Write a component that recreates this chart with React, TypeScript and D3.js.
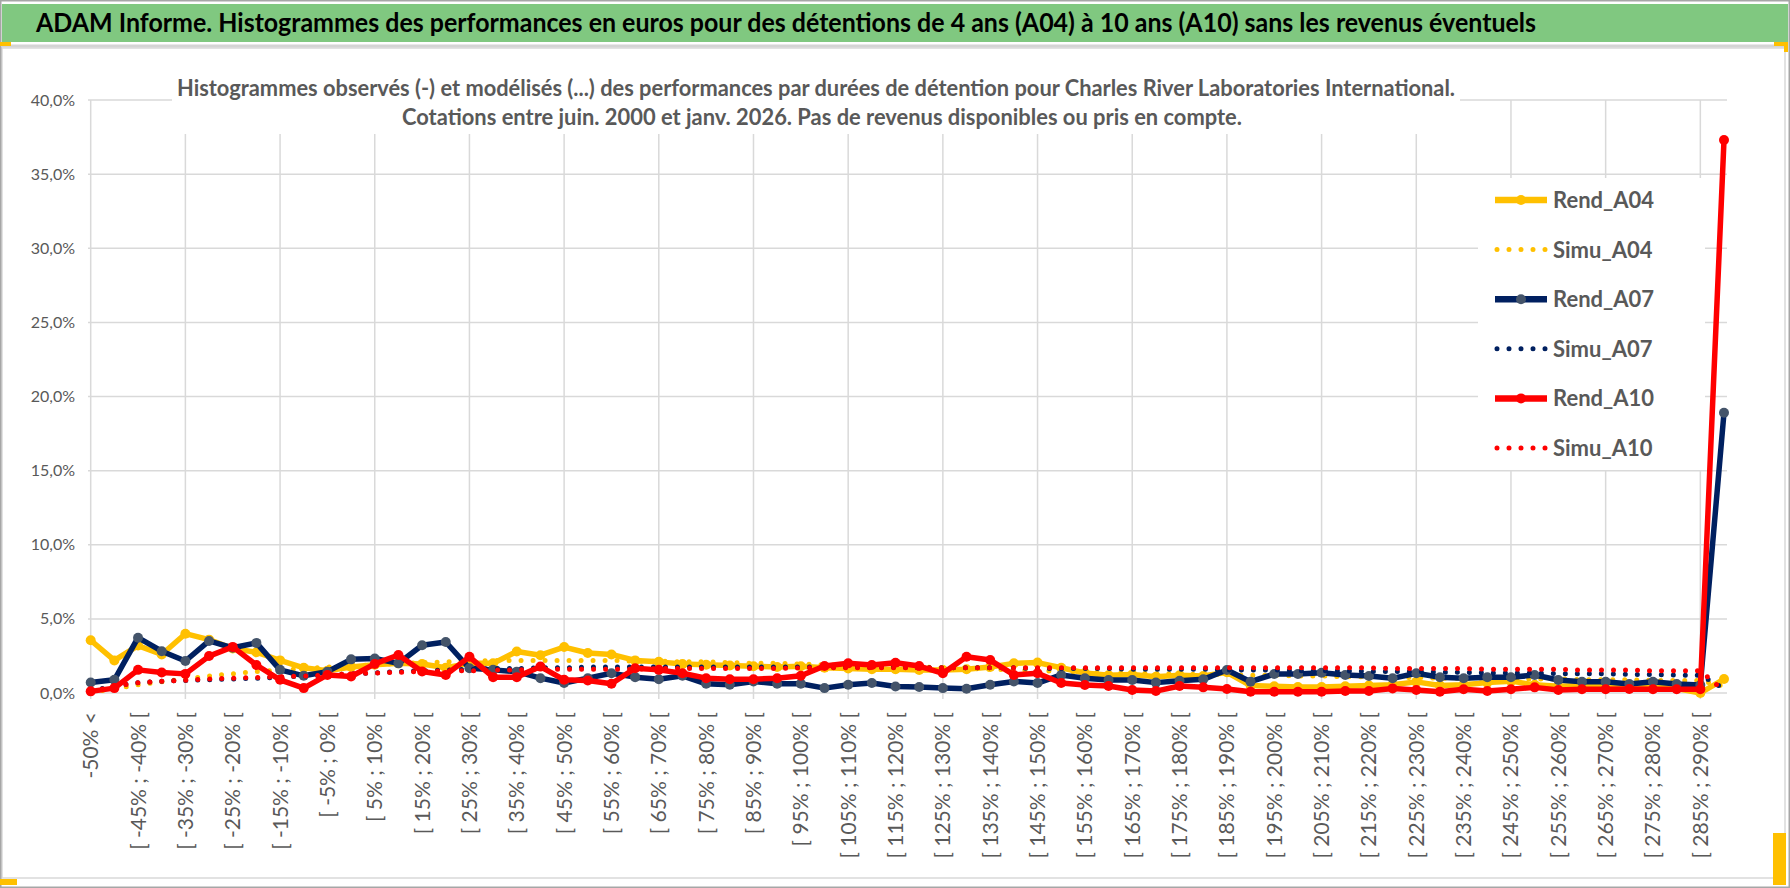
import React, { useEffect, useRef } from 'react';
import * as d3 from 'd3';

// categories of the histogram (5% bins)
const categories = [
	'-50% <', '[ -50% ; -45% [', '[ -45% ; -40% [', '[ -40% ; -35% [', '[ -35% ; -30% [', '[ -30% ; -25% [',
	'[ -25% ; -20% [', '[ -20% ; -15% [', '[ -15% ; -10% [', '[ -10% ; -5% [', '[ -5% ; 0% [', '[ 0% ; 5% [',
	'[ 5% ; 10% [', '[ 10% ; 15% [', '[ 15% ; 20% [', '[ 20% ; 25% [', '[ 25% ; 30% [', '[ 30% ; 35% [',
	'[ 35% ; 40% [', '[ 40% ; 45% [', '[ 45% ; 50% [', '[ 50% ; 55% [', '[ 55% ; 60% [', '[ 60% ; 65% [',
	'[ 65% ; 70% [', '[ 70% ; 75% [', '[ 75% ; 80% [', '[ 80% ; 85% [', '[ 85% ; 90% [', '[ 90% ; 95% [',
	'[ 95% ; 100% [', '[ 100% ; 105% [', '[ 105% ; 110% [', '[ 110% ; 115% [', '[ 115% ; 120% [', '[ 120% ; 125% [',
	'[ 125% ; 130% [', '[ 130% ; 135% [', '[ 135% ; 140% [', '[ 140% ; 145% [', '[ 145% ; 150% [', '[ 150% ; 155% [',
	'[ 155% ; 160% [', '[ 160% ; 165% [', '[ 165% ; 170% [', '[ 170% ; 175% [', '[ 175% ; 180% [', '[ 180% ; 185% [',
	'[ 185% ; 190% [', '[ 190% ; 195% [', '[ 195% ; 200% [', '[ 200% ; 205% [', '[ 205% ; 210% [', '[ 210% ; 215% [',
	'[ 215% ; 220% [', '[ 220% ; 225% [', '[ 225% ; 230% [', '[ 230% ; 235% [', '[ 235% ; 240% [', '[ 240% ; 245% [',
	'[ 245% ; 250% [', '[ 250% ; 255% [', '[ 255% ; 260% [', '[ 260% ; 265% [', '[ 265% ; 270% [', '[ 270% ; 275% [',
	'[ 275% ; 280% [', '[ 280% ; 285% [', '[ 285% ; 290% [', '> 290%',
];

// values in %
const rendA04 = [
	3.56, 2.2, 3.2, 2.6, 4.0, 3.6, 3.0, 2.75, 2.2, 1.7, 1.5, 1.75, 1.9, 2.0, 1.95, 1.7, 2.0, 2.0, 2.8, 2.55,
	3.1, 2.7, 2.6, 2.2, 2.1, 1.95, 1.9, 1.85, 1.8, 1.75, 1.8, 1.7, 1.65, 1.6, 1.6, 1.55, 1.55, 1.6, 1.75, 2.0,
	2.05, 1.7, 1.35, 1.2, 1.25, 1.1, 1.2, 1.15, 1.4, 0.5, 0.45, 0.4, 0.4, 0.45, 0.5, 0.55, 0.75, 0.5, 0.55, 0.7,
	0.8, 0.55, 0.45, 0.5, 0.6, 0.45, 0.5, 0.3, 0.0, 0.94,
];
const simuA04 = [
	0.05, 0.3, 0.55, 0.75, 0.95, 1.15, 1.3, 1.45, 1.55, 1.65, 1.75, 1.85, 1.9, 2.0, 2.05, 2.1, 2.15, 2.2, 2.2, 2.2,
	2.2, 2.2, 2.2, 2.15, 2.15, 2.1, 2.1, 2.05, 2.0, 2.0, 1.95, 1.9, 1.85, 1.8, 1.8, 1.75, 1.7, 1.65, 1.6, 1.55,
	1.5, 1.45, 1.4, 1.35, 1.35, 1.3, 1.3, 1.25, 1.25, 1.2, 1.2, 1.15, 1.15, 1.1, 1.1, 1.05, 1.05, 1.0, 1.0, 1.0,
	0.95, 0.95, 0.95, 0.9, 0.9, 0.9, 0.85, 0.85, 0.85, 0.45,
];
const rendA07 = [
	0.71, 0.89, 3.73, 2.82, 2.16, 3.51, 3.05, 3.38, 1.56, 1.16, 1.44, 2.27, 2.33, 2.0, 3.22, 3.44, 1.67, 1.56, 1.44, 1.0,
	0.67, 1.0, 1.33, 1.07, 0.93, 1.16, 0.62, 0.56, 0.78, 0.62, 0.62, 0.33, 0.56, 0.67, 0.44, 0.4, 0.33, 0.29, 0.56, 0.78,
	0.67, 1.22, 1.0, 0.88, 0.88, 0.7, 0.83, 0.92, 1.55, 0.76, 1.28, 1.28, 1.37, 1.21, 1.15, 0.99, 1.33, 1.06, 0.99, 1.06,
	1.06, 1.21, 0.88, 0.76, 0.76, 0.6, 0.76, 0.6, 0.54, 18.9,
];
const simuA07 = [
	0.1, 0.5, 0.7, 0.8, 0.85, 0.9, 0.95, 1.0, 1.05, 1.15, 1.2, 1.3, 1.35, 1.45, 1.5, 1.55, 1.6, 1.65, 1.65, 1.7,
	1.7, 1.75, 1.75, 1.75, 1.75, 1.75, 1.75, 1.75, 1.75, 1.75, 1.75, 1.75, 1.75, 1.75, 1.75, 1.7, 1.7, 1.7, 1.7, 1.7,
	1.65, 1.65, 1.65, 1.65, 1.6, 1.6, 1.6, 1.6, 1.55, 1.55, 1.55, 1.5, 1.5, 1.5, 1.45, 1.45, 1.45, 1.4, 1.4, 1.35,
	1.35, 1.35, 1.3, 1.3, 1.3, 1.25, 1.25, 1.2, 1.2, 0.3,
];
const rendA10 = [
	0.11, 0.33, 1.56, 1.38, 1.29, 2.49, 3.11, 1.89, 0.89, 0.33, 1.22, 1.11, 1.96, 2.56, 1.45, 1.22, 2.44, 1.07, 1.07, 1.78,
	0.89, 0.84, 0.62, 1.67, 1.56, 1.33, 1.0, 0.93, 0.93, 1.0, 1.16, 1.82, 2.0, 1.89, 2.04, 1.82, 1.33, 2.44, 2.22, 1.22,
	1.33, 0.67, 0.54, 0.47, 0.2, 0.13, 0.47, 0.38, 0.27, 0.09, 0.09, 0.09, 0.09, 0.13, 0.13, 0.31, 0.2, 0.09, 0.25, 0.13,
	0.25, 0.38, 0.2, 0.25, 0.25, 0.27, 0.25, 0.25, 0.25, 37.3,
];
const simuA10 = [
	0.1, 0.45, 0.7, 0.8, 0.85, 0.95, 1.0, 1.05, 1.1, 1.15, 1.2, 1.3, 1.35, 1.4, 1.45, 1.5, 1.5, 1.55, 1.55, 1.6,
	1.6, 1.6, 1.6, 1.6, 1.65, 1.65, 1.65, 1.65, 1.65, 1.65, 1.7, 1.7, 1.7, 1.7, 1.7, 1.7, 1.7, 1.7, 1.7, 1.7,
	1.7, 1.7, 1.7, 1.7, 1.7, 1.7, 1.7, 1.7, 1.7, 1.7, 1.7, 1.7, 1.7, 1.7, 1.7, 1.65, 1.65, 1.65, 1.65, 1.6,
	1.6, 1.6, 1.6, 1.55, 1.55, 1.55, 1.5, 1.5, 1.5, 0.15,
];

const yTicks = [0, 5, 10, 15, 20, 25, 30, 35, 40];
const yTickLabels = ['0,0%', '5,0%', '10,0%', '15,0%', '20,0%', '25,0%', '30,0%', '35,0%', '40,0%'];

const title = 'ADAM Informe. Histogrammes des performances en euros pour des détentions de 4 ans (A04) à 10 ans (A10) sans les revenus éventuels';
const subtitle1 = 'Histogrammes observés (-) et modélisés (...) des performances par durées de détention pour Charles River Laboratories International.';
const subtitle2 = 'Cotations entre juin. 2000 et janv. 2026. Pas de revenus disponibles ou pris en compte.';

interface Serie {
	name: string;
	values: number[];
	color: string;
	marker?: string;
}

const series: Serie[] = [
	{ name: 'Rend_A04', values: rendA04, color: '#FFC000', marker: '#FFC000' },
	{ name: 'Simu_A04', values: simuA04, color: '#FFC000' },
	{ name: 'Rend_A07', values: rendA07, color: '#002060', marker: '#44546A' },
	{ name: 'Simu_A07', values: simuA07, color: '#002060' },
	{ name: 'Rend_A10', values: rendA10, color: '#FF0000', marker: '#FF0000' },
	{ name: 'Simu_A10', values: simuA10, color: '#FF0000' },
];

const W = 1790;
const H = 888;
const FONT = 'Lato, "Liberation Sans", sans-serif';

const Chart: React.FC = () => {
	const ref = useRef<SVGSVGElement | null>(null);

	useEffect(() => {
		if (!ref.current) return;
		const svg = d3.select(ref.current);
		svg.selectAll('*').remove();

		const x = d3.scalePoint<string>().domain(categories).range([90.7, 1724]);
		const y = d3.scaleLinear().domain([0, 40]).range([693, 100]);

		// frame and header
		svg.append('rect').attr('width', W).attr('height', H).attr('fill', '#fff');
		svg.append('rect').attr('x', 2).attr('y', 48).attr('width', 1783).attr('height', 830)
			.attr('fill', 'none').attr('stroke', '#d9d9d9').attr('stroke-width', 1.5);
		svg.append('rect').attr('x', 0.75).attr('y', 0.75).attr('width', W - 1.5).attr('height', H - 1.5)
			.attr('fill', 'none').attr('stroke', '#a6a6a6').attr('stroke-width', 1.5);
		svg.append('rect').attr('x', 2).attr('y', 4).attr('width', W - 4).attr('height', 38).attr('fill', '#80c880');
		svg.append('line').attr('x1', 2).attr('x2', W - 2).attr('y1', 46).attr('y2', 46)
			.attr('stroke', '#d4d4d4').attr('stroke-width', 3);
		svg.append('rect').attr('x', 0).attr('y', 42).attr('width', 11).attr('height', 4).attr('fill', '#FFC000');
		svg.append('rect').attr('x', 1774).attr('y', 42).attr('width', 14).attr('height', 4).attr('fill', '#FFC000');
		svg.append('rect').attr('x', 1784).attr('y', 42).attr('width', 4).attr('height', 10).attr('fill', '#FFC000');
		svg.append('rect').attr('x', 0).attr('y', 879).attr('width', 17).attr('height', 6).attr('fill', '#FFC000');
		svg.append('rect').attr('x', 1773).attr('y', 833).attr('width', 13).attr('height', 52).attr('fill', '#FFC000');

		svg.append('text').attr('x', 36).attr('y', 32).text(title)
			.attr('font-family', FONT).attr('font-weight', 700).attr('font-size', 26).attr('fill', '#000')
			.attr('textLength', 1500).attr('lengthAdjust', 'spacingAndGlyphs');

		// grid
		const grid = svg.append('g').attr('stroke', '#d9d9d9').attr('stroke-width', 1.5);
		grid.selectAll('line.h').data(yTicks).enter().append('line')
			.attr('x1', 88).attr('x2', 1727).attr('y1', (d) => y(d)).attr('y2', (d) => y(d));
		grid.selectAll('line.v').data(categories.filter((_, i) => i % 4 === 0)).enter().append('line')
			.attr('x1', (d) => x(d)!).attr('x2', (d) => x(d)!).attr('y1', y(40)).attr('y2', y(0) + 6);

		// boxes of title and legend over the grid
		svg.append('rect').attr('x', 172).attr('y', 56).attr('width', 1288).attr('height', 78).attr('fill', '#fff');
		svg.append('rect').attr('x', 1478).attr('y', 178).attr('width', 227).attr('height', 292).attr('fill', '#fff');

		svg.append('text').attr('x', 816).attr('y', 96).attr('text-anchor', 'middle').text(subtitle1)
			.attr('font-family', FONT).attr('font-weight', 700).attr('font-size', 22).attr('fill', '#595959')
			.attr('textLength', 1278).attr('lengthAdjust', 'spacingAndGlyphs');
		svg.append('text').attr('x', 822).attr('y', 125).attr('text-anchor', 'middle').text(subtitle2)
			.attr('font-family', FONT).attr('font-weight', 700).attr('font-size', 22).attr('fill', '#595959')
			.attr('textLength', 840).attr('lengthAdjust', 'spacingAndGlyphs');

		// y labels
		svg.append('g').selectAll('text').data(yTicks).enter().append('text')
			.attr('x', 75).attr('y', (d) => y(d)).attr('dy', '0.35em').attr('text-anchor', 'end')
			.attr('font-family', FONT).attr('font-size', 16).attr('fill', '#595959')
			.text((_, i) => yTickLabels[i]);

		// x labels
		svg.append('g').selectAll('text').data(categories.filter((_, i) => i % 2 === 0)).enter().append('text')
			.attr('transform', (d) => `translate(${x(d)! + 7.5},712) rotate(-90)`)
			.attr('text-anchor', 'end')
			.attr('font-family', FONT).attr('font-size', 21).attr('fill', '#595959')
			.text((d) => d);

		// series
		const line = d3.line<number>().x((_, i) => x(categories[i])!).y((d) => y(d));
		series.forEach((s) => {
			const g = svg.append('g');
			if (s.marker) {
				g.append('path').datum(s.values).attr('d', line).attr('fill', 'none')
					.attr('stroke', s.color).attr('stroke-width', 5.5).attr('stroke-linejoin', 'round');
				g.selectAll('circle').data(s.values).enter().append('circle')
					.attr('cx', (_, i) => x(categories[i])!).attr('cy', (d) => y(d)).attr('r', 5)
					.attr('fill', s.marker);
			} else {
				g.append('path').datum(s.values).attr('d', line).attr('fill', 'none')
					.attr('stroke', s.color).attr('stroke-width', 5).attr('stroke-linecap', 'round')
					.attr('stroke-dasharray', '0 12');
			}
		});

		// legend
		const leg = svg.append('g');
		series.forEach((s, k) => {
			const ly = 200 + k * 49.6;
			const r = leg.append('g');
			if (s.marker) {
				r.append('line').attr('x1', 1495).attr('x2', 1547).attr('y1', ly).attr('y2', ly)
					.attr('stroke', s.color).attr('stroke-width', 6.5);
				r.append('circle').attr('cx', 1521).attr('cy', ly).attr('r', 5).attr('fill', s.marker);
			} else {
				r.append('line').attr('x1', 1497).attr('x2', 1547).attr('y1', ly).attr('y2', ly)
					.attr('stroke', s.color).attr('stroke-width', 5).attr('stroke-linecap', 'round')
					.attr('stroke-dasharray', '0 12');
			}
			r.append('text').attr('x', 1553).attr('y', ly).attr('dy', '0.36em').text(s.name)
				.attr('font-family', FONT).attr('font-weight', 700).attr('font-size', 22).attr('fill', '#595959');
		});
	}, []);

	return <svg ref={ref} width={W} height={H} viewBox={`0 0 ${W} ${H}`} style={{ position: 'absolute', left: 0, top: 0 }} />;
};

export default function App() {
	return <Chart />;
}
